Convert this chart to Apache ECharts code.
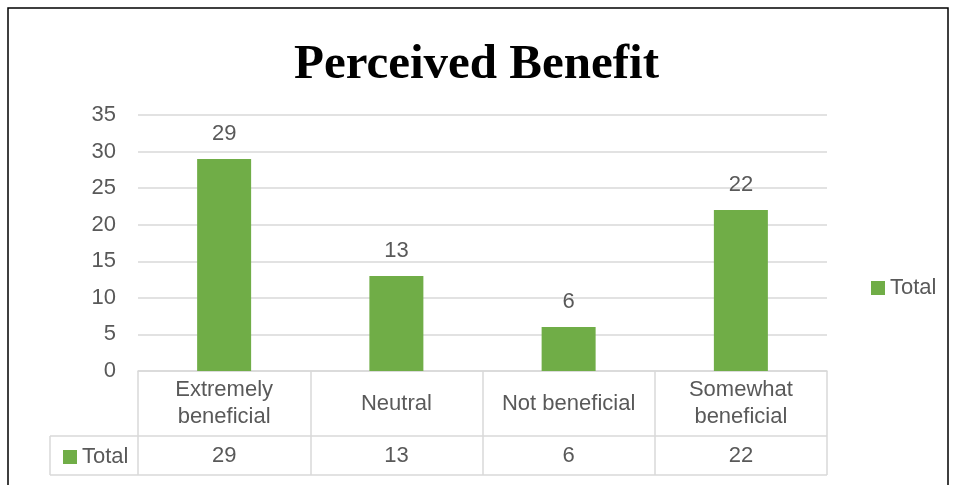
<!DOCTYPE html>
<html>
<head>
<meta charset="utf-8">
<script src="https://cdn.jsdelivr.net/npm/echarts@6/dist/echarts.min.js"></script>
<style>
  html, body { margin: 0; padding: 0; background: #fff; }
  #chart { width: 953px; height: 485px; }
</style>
</head>
<body>
<div id="chart"></div>
<script>
// Survey responses: perceived benefit
const categories = ['Extremely\nbeneficial', 'Neutral', 'Not beneficial', 'Somewhat\nbeneficial'];
const totals = [29, 13, 6, 22];
const seriesName = 'Total';
const yTicks = { min: 0, max: 35, interval: 5 };

const FONT = "'Liberation Sans', Arial, sans-serif";
const TEXT = '#595959';
const RULE = '#D9D9D9';
const GREEN = '#70AD47';
const FS = 22;

const gridLeft = 138, gridRight = 126, gridTop = 115, gridBottom = 114;
const axisY = 485 - gridBottom;          // category axis position
const rowH1 = 65, rowH2 = 39;            // data table row heights
const tableLeft = 50, tableRight = 953 - gridRight;

const chart = echarts.init(document.getElementById('chart'), null, { renderer: 'canvas' });

chart.setOption({
  backgroundColor: '#fff',
  animation: false,
  title: {
    text: 'Perceived Benefit',
    left: 'center',
    top: 36,
    textStyle: {
      fontFamily: "'Liberation Serif', 'Times New Roman', serif",
      fontWeight: 'bold',
      fontSize: 49,
      color: '#000'
    }
  },
  legend: [
    {
      data: [seriesName],
      left: 866, top: 272,
      itemWidth: 14, itemHeight: 14,
      icon: 'rect',
      textStyle: { color: TEXT, fontSize: FS, fontFamily: FONT }
    },
    {
      data: [seriesName],
      left: 58, top: axisY + rowH1 + 5,
      itemWidth: 14, itemHeight: 14,
      icon: 'rect',
      selectedMode: false,
      textStyle: { color: TEXT, fontSize: FS, fontFamily: FONT }
    }
  ],
  grid: { left: gridLeft, right: gridRight, top: gridTop, bottom: gridBottom, containLabel: false },
  xAxis: [
    {
      type: 'category',
      data: categories,
      position: 'bottom',
      axisLine: { show: true, lineStyle: { color: RULE, width: 1.5 } },
      axisTick: { show: true, interval: 0, length: rowH1 + rowH2, lineStyle: { color: RULE, width: 1.5 } },
      axisLabel: {
        interval: 0,
        hideOverlap: false,
        margin: rowH1 / 2,
        verticalAlign: 'middle',
        lineHeight: 27,
        color: TEXT,
        fontSize: FS,
        fontFamily: FONT
      }
    },
    {
      type: 'category',
      data: totals.map(String),
      position: 'bottom',
      offset: rowH1,
      axisLine: { show: false },
      axisTick: { show: false },
      axisLabel: {
        interval: 0,
        margin: rowH2 / 2,
        verticalAlign: 'middle',
        color: TEXT,
        fontSize: FS,
        fontFamily: FONT
      }
    }
  ],
  yAxis: {
    type: 'value',
    min: yTicks.min,
    max: yTicks.max,
    interval: yTicks.interval,
    axisLine: { show: false },
    axisTick: { show: false },
    splitLine: { lineStyle: { color: RULE, width: 1.5 } },
    axisLabel: { margin: 22, color: TEXT, fontSize: FS, fontFamily: FONT }
  },
  series: [
    {
      name: seriesName,
      type: 'bar',
      data: totals,
      barWidth: 54,
      itemStyle: { color: GREEN },
      label: {
        show: true,
        position: 'top',
        distance: 14,
        color: TEXT,
        fontSize: FS,
        fontFamily: FONT
      }
    }
  ],
  graphic: [
    // outer frame
    {
      type: 'rect',
      shape: { x: 8, y: 8, width: 940, height: 520 },
      style: { fill: 'none', stroke: '#000', lineWidth: 1.5 },
      silent: true
    },
    // data table rules
    {
      type: 'line',
      shape: { x1: tableLeft, y1: axisY + rowH1, x2: tableRight, y2: axisY + rowH1 },
      style: { stroke: RULE, lineWidth: 1.5 }, silent: true
    },
    {
      type: 'line',
      shape: { x1: tableLeft, y1: axisY + rowH1 + rowH2, x2: tableRight, y2: axisY + rowH1 + rowH2 },
      style: { stroke: RULE, lineWidth: 1.5 }, silent: true
    },
    {
      type: 'line',
      shape: { x1: tableLeft, y1: axisY + rowH1, x2: tableLeft, y2: axisY + rowH1 + rowH2 },
      style: { stroke: RULE, lineWidth: 1.5 }, silent: true
    }
  ]
});
</script>
</body>
</html>
